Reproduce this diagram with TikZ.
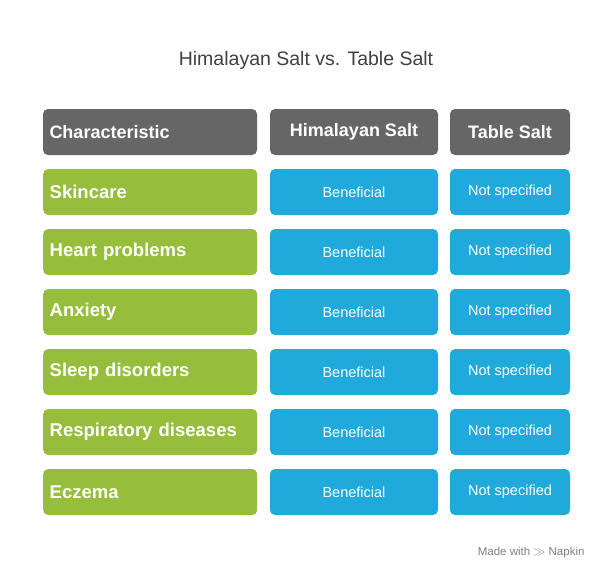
\documentclass[tikz,border=0pt]{standalone}
\usepackage{fontspec}
\setmainfont{Liberation Sans}
\usetikzlibrary{positioning}
\definecolor{headgray}{HTML}{666666}
\definecolor{rowgreen}{HTML}{97BD3C}
\definecolor{cellblue}{HTML}{1FAADB}
\definecolor{titlegray}{HTML}{404040}
\tikzset{
  cellbox/.style={rounded corners=5pt, minimum height=46pt, inner sep=0pt, text=white},
  headbox/.style={cellbox, fill=headgray, font=\bfseries\fontsize{18}{21}\selectfont},
  rowbox/.style={cellbox, fill=rowgreen, font=\bfseries\fontsize{18.5}{21}\selectfont, minimum width=214pt, anchor=west, text width=201pt, align=left},
  valbox/.style={cellbox, fill=cellblue, font=\fontsize{14.5}{17}\selectfont}
}
\begin{document}
\begin{tikzpicture}[x=1pt,y=-1pt]
  \useasboundingbox (0,0) rectangle (612,582);
  \node[font=\fontsize{19.5}{23}\selectfont, text=titlegray] (title) at (306,60) {Himalayan Salt vs. Table Salt};
  % header row
  \node[headbox, minimum width=214pt, text width=201pt, align=left] (hchar) at (150,132) {Characteristic};
  \node[headbox, minimum width=168pt] (hhim) at (354,132) {Himalayan Salt};
  \node[headbox, minimum width=120pt] (htab) at (510,132) {Table Salt};
  % body rows
  \foreach \name [count=\i] in {Skincare,Heart problems,Anxiety,Sleep disorders,Respiratory diseases,Eczema} {
    \node[rowbox] (row\i) at (43,{132+60*\i}) {\name};
    \node[valbox, minimum width=168pt] (him\i) at (354,{132+60*\i}) {Beneficial};
    \node[valbox, minimum width=120pt] (tab\i) at (510,{132+60*\i}) {Not specified};
  }
  \node[font=\fontsize{11.5}{13}\selectfont, text=gray, anchor=east] (credit) at (588,553) {Made with $\gg$ Napkin};
\end{tikzpicture}
\end{document}
